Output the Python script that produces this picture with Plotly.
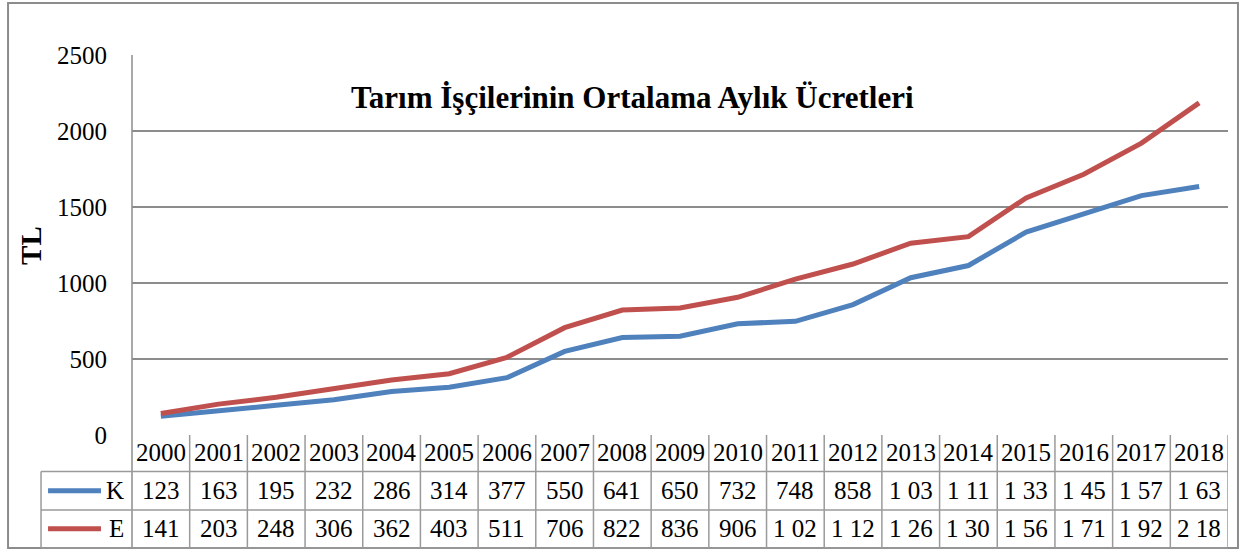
import plotly.graph_objects as go

years = [2000, 2001, 2002, 2003, 2004, 2005, 2006, 2007, 2008, 2009,
         2010, 2011, 2012, 2013, 2014, 2015, 2016, 2017, 2018]
k_values = [123, 163, 195, 232, 286, 314, 377, 550, 641, 650,
            732, 748, 858, 1035, 1115, 1335, 1455, 1575, 1635]
e_values = [141, 203, 248, 306, 362, 403, 511, 706, 822, 836,
            906, 1025, 1125, 1262, 1305, 1560, 1715, 1920, 2185]
series = [("K", k_values, "#4F81BD"), ("E", e_values, "#C0504D")]
y_ticks = [0, 500, 1000, 1500, 2000, 2500]
title_text = "Tarım İşçilerinin Ortalama Aylık Ücretleri"
y_title = "TL"

FONT = "Times New Roman, Liberation Serif, Tinos, serif"
GRID = "#8c8c8c"
TBL = "#9a9a9a"


def table_text(v):
    # the table in the source truncates 4-digit values (e.g. "1 03")
    if v < 1000:
        return str(v)
    return f"{v // 1000} {str(v % 1000).zfill(3)[:2]}"


fig = go.Figure()
for name, vals, color in series:
    fig.add_trace(go.Scatter(
        x=years, y=vals, mode="lines", name=name,
        line=dict(color=color, width=5), showlegend=False,
        hoverinfo="x+y"))

# row boundaries (paper y) of the data table below the plot
row_edges = [0.0, -0.0961, -0.1974, -0.2974]
row_centers = [-0.046, -0.147, -0.247]
legend_left = -0.083

shapes = []
# outer chart border
shapes.append(dict(type="rect", xref="paper", yref="paper",
                   x0=-0.1131, x1=1.0091, y0=-0.2974, y1=1.1368,
                   line=dict(color=GRID, width=2), layer="below"))
# vertical line at plot left (value axis) extending through table
shapes.append(dict(type="line", xref="paper", yref="paper",
                   x0=0, x1=0, y0=row_edges[-1], y1=1,
                   line=dict(color=GRID, width=1.5)))
# horizontal table lines
for ye in row_edges[1:]:
    shapes.append(dict(type="line", xref="paper", yref="paper",
                       x0=legend_left, x1=1, y0=ye, y1=ye,
                       line=dict(color=TBL, width=1.5)))
shapes.append(dict(type="line", xref="paper", yref="paper",
                   x0=legend_left, x1=legend_left,
                   y0=row_edges[-1], y1=row_edges[1],
                   line=dict(color=TBL, width=1.5)))
# vertical table column lines
for yr in years:
    shapes.append(dict(type="line", xref="x", yref="paper",
                       x0=yr + 0.5, x1=yr + 0.5,
                       y0=row_edges[-1], y1=row_edges[0],
                       line=dict(color=TBL, width=1.5)))
# legend keys in table
for (name, vals, color), yc in zip(series, row_centers[1:]):
    shapes.append(dict(type="line", xref="paper", yref="paper",
                       x0=-0.0766, x1=-0.0283, y0=yc, y1=yc,
                       line=dict(color=color, width=5)))

annotations = []
annotations.append(dict(text=f"<b>{title_text}</b>", xref="paper", yref="paper",
                        x=0.457, y=0.887, xanchor="center", yanchor="middle",
                        showarrow=False,
                        font=dict(family=FONT, size=31, color="black")))
annotations.append(dict(text=f"<b>{y_title}</b>", xref="paper", yref="paper",
                        x=-0.0922, y=0.5, xanchor="center", yanchor="middle",
                        showarrow=False, textangle=-90,
                        font=dict(family=FONT, size=29, color="black")))
for yr in years:
    annotations.append(dict(text=str(yr), xref="x", yref="paper",
                            x=yr, y=row_centers[0], xanchor="center",
                            yanchor="middle", showarrow=False,
                            font=dict(family=FONT, size=25, color="black")))
for (name, vals, color), yc in zip(series, row_centers[1:]):
    annotations.append(dict(text=name, xref="paper", yref="paper",
                            x=-0.0055, y=yc, xanchor="right", yanchor="middle",
                            showarrow=False,
                            font=dict(family=FONT, size=25, color="black")))
    for yr, v in zip(years, vals):
        annotations.append(dict(text=table_text(v), xref="x", yref="paper",
                                x=yr, y=yc, xanchor="center", yanchor="middle",
                                showarrow=False,
                                font=dict(family=FONT, size=25, color="black")))

fig.update_layout(
    width=1241, height=552,
    margin=dict(l=132, r=13, t=55, b=117),
    paper_bgcolor="white", plot_bgcolor="white",
    font=dict(family=FONT, color="black"),
    shapes=shapes, annotations=annotations,
    xaxis=dict(range=[years[0] - 0.5, years[-1] + 0.5], showticklabels=False,
               showgrid=False, zeroline=False, showline=False, ticks=""),
    yaxis=dict(range=[0, 2500], tickvals=y_ticks, showgrid=True,
               gridcolor=GRID, gridwidth=1.5, zeroline=False, showline=False,
               ticks="", ticklabelstandoff=24,
               tickfont=dict(family=FONT, size=25, color="black")),
    hovermode=False,
)

fig.write_html("out.html", config={"displayModeBar": False},
               post_script="document.body.style.margin='0px';")
